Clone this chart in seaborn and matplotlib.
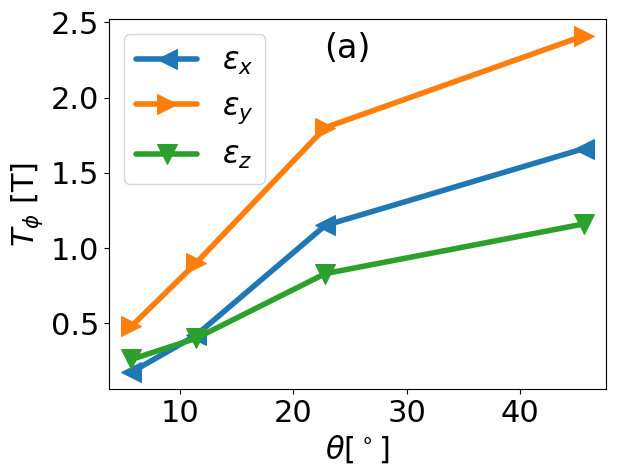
import numpy as np
import pandas as pd
import seaborn as sns
import matplotlib
matplotlib.use("Agg")
import matplotlib.pyplot as plt

theta = [5.7, 11.4, 22.8, 45.6]
eps_x = [0.175, 0.42, 1.15, 1.66]
eps_y = [0.48, 0.90, 1.80, 2.41]
eps_z = [0.26, 0.40, 0.83, 1.16]

labels = [r'$\epsilon_x$', r'$\epsilon_y$', r'$\epsilon_z$']
markers = ['<', '>', 'v']
colors = ['#1f77b4', '#ff7f0e', '#2ca02c']

sns.set_style("ticks", {'text.color': 'black', 'axes.labelcolor': 'black',
                        'xtick.color': 'black', 'ytick.color': 'black',
                        'axes.edgecolor': 'black'})
plt.rcParams['font.family'] = ['DejaVu Sans']
plt.rcParams['mathtext.fontset'] = 'dejavusans'

fig = plt.figure(figsize=(6.18, 4.75), dpi=100)
ax = fig.add_axes([0.176, 0.181, 0.805, 0.779])

for vals, lab, m, c in zip([eps_x, eps_y, eps_z], labels, markers, colors):
    df = pd.DataFrame({'theta': theta, 'T': vals})
    sns.lineplot(data=df, x='theta', y='T', ax=ax, label=lab, marker=m,
                 color=c, linewidth=4, markersize=15, markeredgecolor=c)

ax.set_xlabel(r'$\theta[^\circ]$', fontsize=22)
ax.set_ylabel(r'$T_\phi$ [T]', fontsize=22)
ax.tick_params(labelsize=22)
ax.set_xticks([10, 20, 30, 40])
ax.set_yticks([0.5, 1.0, 1.5, 2.0, 2.5])
for s in ax.spines.values():
    s.set_visible(True)
    s.set_color('black')
ax.text(0.48, 0.92, '(a)', transform=ax.transAxes, fontsize=24,
        ha='center', va='center', color='black')
ax.legend(loc='upper left', fontsize=22, handlelength=2)

fig.savefig('out.png', dpi=100)
